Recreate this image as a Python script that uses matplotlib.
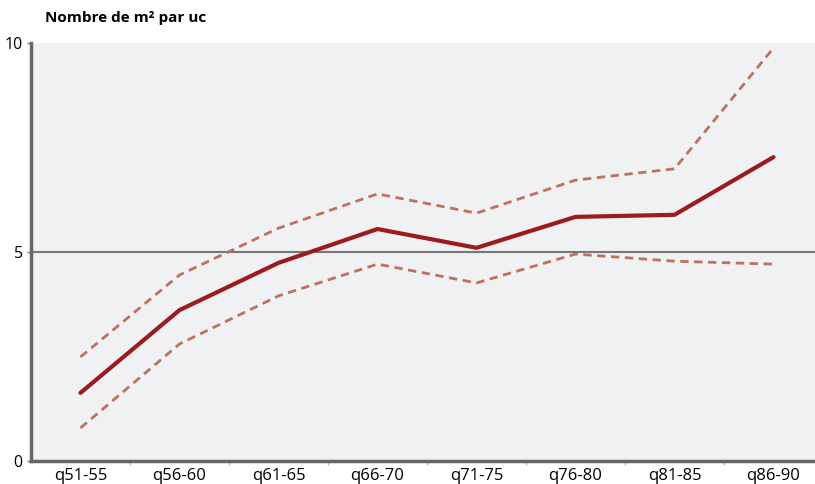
import matplotlib
matplotlib.use("Agg")
import matplotlib.pyplot as plt

categories = ["q51-55", "q56-60", "q61-65", "q66-70", "q71-75", "q76-80", "q81-85", "q86-90"]
moyenne = [1.63, 3.61, 4.74, 5.55, 5.10, 5.84, 5.89, 7.27]
borne_haute = [2.49, 4.45, 5.57, 6.39, 5.93, 6.72, 6.99, 9.88]
borne_basse = [0.79, 2.80, 3.95, 4.71, 4.26, 4.95, 4.78, 4.71]
y_ticks = [0, 5, 10]

plt.rcParams['font.family'] = ['Open Sans', 'DejaVu Sans']

fig = plt.figure(figsize=(8.15, 4.84), dpi=100)
ax = fig.add_axes([31 / 815, 23 / 484, 792 / 815, 418 / 484])
ax.set_facecolor("#f0f1f3")

x = list(range(len(categories)))
ax.axhline(5, color="#777777", lw=1.5, zorder=1)
ax.plot(x, borne_haute, color="#c0705e", lw=2, ls=(0, (3, 2)), zorder=2)
ax.plot(x, borne_basse, color="#c0705e", lw=2, ls=(0, (3, 2)), zorder=2)
ax.plot(x, moyenne, color="#9b1b1f", lw=3, solid_capstyle="round", zorder=3)

ax.set_xlim(-0.5, len(categories) - 0.5)
ax.set_ylim(0, 10)
ax.set_xticks(x)
ax.set_xticklabels(categories, fontsize=12)
ax.set_xticks([i + 0.5 for i in x[:-1]], minor=True)
ax.tick_params(axis="x", which="major", length=0, pad=5)
ax.tick_params(axis="x", which="minor", length=3, color="#bbbbbb", width=1)
ax.set_yticks(y_ticks)
ax.set_yticklabels([str(v) for v in y_ticks], fontsize=11.5)
ax.tick_params(axis="y", length=3, color="#777777", width=1, pad=3)

for side in ["top", "right"]:
    ax.spines[side].set_visible(False)
for side in ["left", "bottom"]:
    ax.spines[side].set_color("#666666")
    ax.spines[side].set_linewidth(2.5)

fig.text(45 / 815, 1 - 18 / 484, "Nombre de m² par uc", fontsize=11, fontweight="bold",
         va="center", ha="left")

fig.savefig("out.png", dpi=100)
